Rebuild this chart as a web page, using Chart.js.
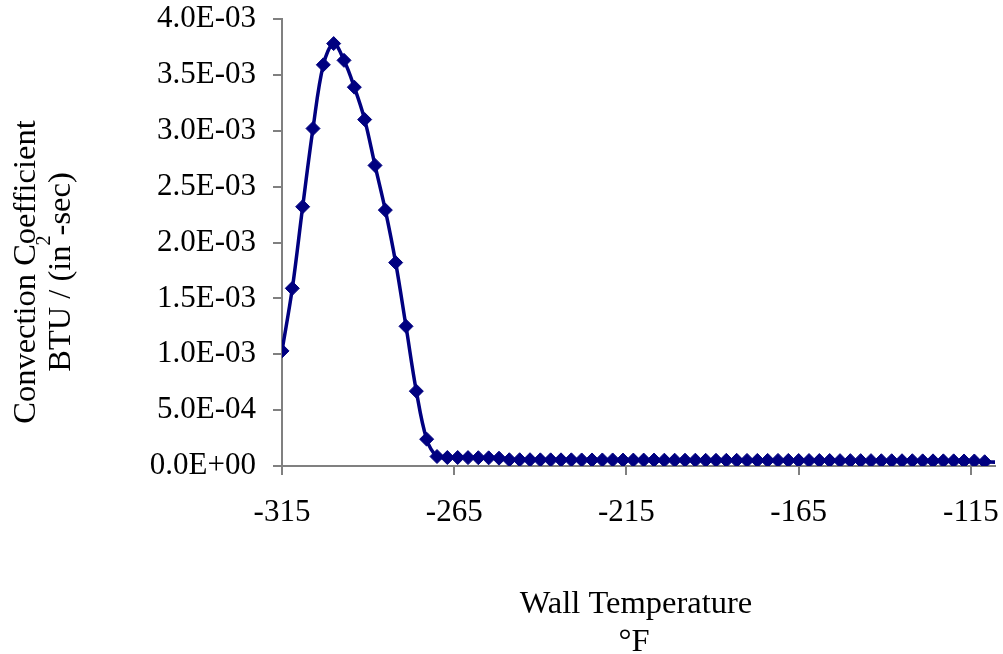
<!DOCTYPE html>
<html>
<head>
<meta charset="utf-8">
<script src="https://cdn.jsdelivr.net/npm/chart.js@4.4.0/dist/chart.umd.min.js"></script>
<style>
  html, body { margin: 0; padding: 0; background: #fff; }
  canvas { display: block; }
</style>
</head>
<body>
<canvas id="hcoef" width="1003" height="654"></canvas>
<script>
// wall temperature (deg F) and convection coefficient (BTU / in^2-sec)
const temps = [
  -315, -312, -309, -306, -303, -300, -297, -294, -291, -288,
  -285, -282, -279, -276, -273, -270, -267, -264, -261, -258,
  -255, -252, -249, -246, -243, -240, -237, -234, -231, -228,
  -225, -222, -219, -216, -213, -210, -207, -204, -201, -198,
  -195, -192, -189, -186, -183, -180, -177, -174, -171, -168,
  -165, -162, -159, -156, -153, -150, -147, -144, -141, -138,
  -135, -132, -129, -126, -123, -120, -117, -114, -111, -105
];
const hValues = [
  1.03e-3, 1.59e-3, 2.32e-3, 3.02e-3, 3.59e-3, 3.78e-3, 3.63e-3, 3.39e-3, 3.10e-3, 2.69e-3,
  2.29e-3, 1.82e-3, 1.25e-3, 6.7e-4, 2.4e-4, 8.5e-5, 7.6e-5, 7.6e-5, 7.5e-5, 7.4e-5,
  7.3e-5, 7.0e-5, 5.6e-5, 5.6e-5, 5.6e-5, 5.5e-5, 5.5e-5, 5.5e-5, 5.5e-5, 5.4e-5,
  5.4e-5, 5.4e-5, 5.4e-5, 5.3e-5, 5.3e-5, 5.3e-5, 5.3e-5, 5.2e-5, 5.2e-5, 5.2e-5,
  5.2e-5, 5.1e-5, 5.1e-5, 5.1e-5, 5.1e-5, 5.0e-5, 5.0e-5, 5.0e-5, 5.0e-5, 5.0e-5,
  4.9e-5, 4.9e-5, 4.9e-5, 4.9e-5, 4.8e-5, 4.8e-5, 4.8e-5, 4.8e-5, 4.7e-5, 4.7e-5,
  4.7e-5, 4.7e-5, 4.6e-5, 4.6e-5, 4.6e-5, 4.6e-5, 4.5e-5, 4.5e-5, 3.8e-5, 3.2e-5
];
const xTicks = [-315, -265, -215, -165, -115];
const yTicks = [0, 0.0005, 0.001, 0.0015, 0.002, 0.0025, 0.003, 0.0035, 0.004];

const xTitle = ['Wall Temperature', '\u00B0F'];
const yTitle = ['Convection Coefficient', 'BTU / (in', '2', '-sec)'];

const FONT = '"Liberation Serif", "Times New Roman", serif';
const AXIS_GRAY = '#808080';
const NAVY = '#000080';

// 4.0E-03 style labels
function sci(v) {
  const parts = Number(v).toExponential(1).split('e');
  const n = parseInt(parts[1], 10);
  return parts[0] + 'E' + (n < 0 ? '-' : '+') + String(Math.abs(n)).padStart(2, '0');
}

// axis titles, the y one has a superscript so it is drawn by hand
const axisTitles = {
  id: 'axisTitles',
  afterDraw(chart) {
    const ctx = chart.ctx;
    const big = '32.5px ' + FONT;
    ctx.save();
    ctx.fillStyle = '#000';
    ctx.textBaseline = 'alphabetic';
    ctx.font = big;

    ctx.textAlign = 'center';
    ctx.fillText(xTitle[0], 636, 613);
    ctx.fillText(xTitle[1], 634, 651);

    ctx.translate(0, 272);
    ctx.rotate(-Math.PI / 2);
    ctx.fillText(yTitle[0], 0, 35);

    ctx.textAlign = 'left';
    const w1 = ctx.measureText(yTitle[1]).width;
    const w3 = ctx.measureText(yTitle[3]).width;
    ctx.font = '20px ' + FONT;
    const w2 = ctx.measureText(yTitle[2]).width;
    const start = -(w1 + w2 + w3) / 2;
    ctx.fillText(yTitle[2], start + w1, 70 - 20);
    ctx.font = big;
    ctx.fillText(yTitle[1], start, 70);
    ctx.fillText(yTitle[3], start + w1 + w2, 70);
    ctx.restore();
  }
};

new Chart(document.getElementById('hcoef'), {
  type: 'line',
  data: {
    datasets: [{
      data: temps.map((t, i) => ({ x: t, y: hValues[i] })),
      borderColor: NAVY,
      backgroundColor: NAVY,
      borderWidth: 3.5,
      tension: 0.35,
      fill: false,
      pointStyle: 'rectRot',
      pointRadius: 7,
      pointBorderWidth: 1,
      pointBackgroundColor: NAVY,
      pointBorderColor: NAVY
    }]
  },
  options: {
    responsive: false,
    animation: false,
    devicePixelRatio: 1,
    layout: { padding: { left: 142, top: 19, right: 6, bottom: 0 } },
    plugins: {
      legend: { display: false },
      tooltip: { enabled: false }
    },
    scales: {
      x: {
        type: 'linear',
        min: -315,
        max: -108,
        afterBuildTicks: s => { s.ticks = xTicks.map(v => ({ value: v })); },
        afterFit: s => {
          s.height = 188;
          s.paddingLeft = 0;
          s.paddingRight = 0;
        },
        ticks: {
          color: '#000',
          font: { family: FONT, size: 31 },
          padding: 19,
          maxRotation: 0,
          autoSkip: false,
          callback: v => String(v)
        },
        grid: { drawOnChartArea: false, color: AXIS_GRAY, tickLength: 9, lineWidth: 2 },
        border: { color: AXIS_GRAY, width: 2 }
      },
      y: {
        min: 0,
        max: 0.004,
        afterBuildTicks: s => { s.ticks = yTicks.map(v => ({ value: v })); },
        afterFit: s => {
          s.width = 140;
          s.paddingTop = 0;
          s.paddingBottom = 0;
        },
        ticks: {
          color: '#000',
          font: { family: FONT, size: 31 },
          padding: 17,
          autoSkip: false,
          callback: v => sci(v)
        },
        grid: { drawOnChartArea: false, color: AXIS_GRAY, tickLength: 9, lineWidth: 2 },
        border: { color: AXIS_GRAY, width: 2 }
      }
    }
  },
  plugins: [axisTitles]
});
</script>
</body>
</html>
